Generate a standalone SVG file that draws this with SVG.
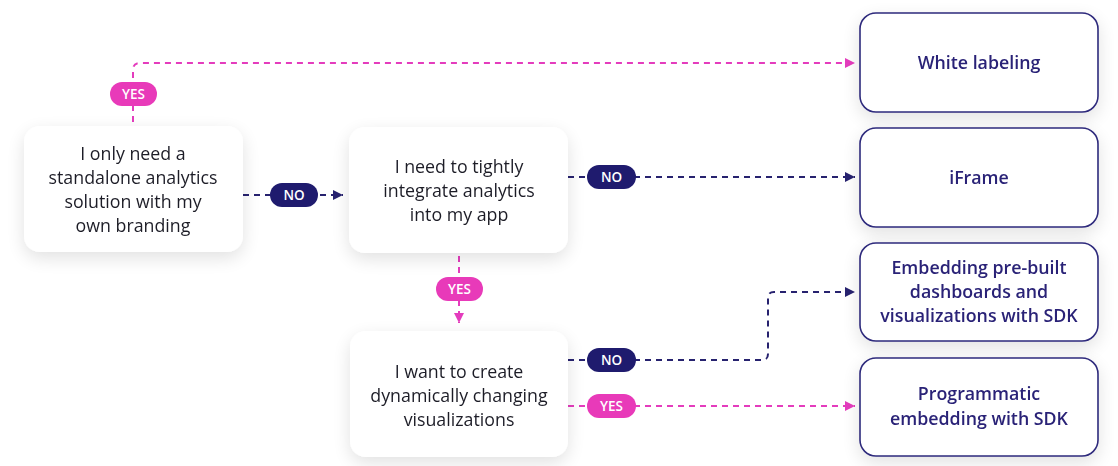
<svg xmlns="http://www.w3.org/2000/svg" width="1118" height="466" viewBox="0 0 1118 466">
<style>
.q rect{fill:#fff}
.q text{font-family:"Open Sans","Noto Sans",sans-serif;font-size:17.8px;fill:#1e1e28;text-anchor:middle}
.r rect{fill:#fff;stroke:#2e2a7c;stroke-width:1.6}
.r text{font-family:"Open Sans","Noto Sans",sans-serif;font-size:17.8px;font-weight:600;fill:#2a2377;text-anchor:middle}
.pk{fill:none;stroke:#e43cbd;stroke-width:2;stroke-dasharray:6 5}
.nv{fill:none;stroke:#27226f;stroke-width:2;stroke-dasharray:6 5}
.bp{fill:#e83ab9}
.bn{fill:#1f1b6e}
.bt{font-family:"Open Sans","Noto Sans",sans-serif;font-size:13.5px;font-weight:600;fill:#fff;text-anchor:middle}
</style>
<defs>
<filter id="sh" x="-30%" y="-30%" width="160%" height="170%">
<feGaussianBlur in="SourceAlpha" stdDeviation="9"/>
<feOffset dy="6"/>
<feComponentTransfer><feFuncA type="linear" slope="0.12"/></feComponentTransfer>
<feMerge><feMergeNode/><feMergeNode in="SourceGraphic"/></feMerge>
</filter>
<marker id="ap" viewBox="0 0 10 10" refX="10" refY="5" markerWidth="5" markerHeight="5" orient="auto"><path d="M0,0L10,5L0,10z" fill="#e43cbd"/></marker>
<marker id="an" viewBox="0 0 10 10" refX="10" refY="5" markerWidth="5" markerHeight="5" orient="auto"><path d="M0,0L10,5L0,10z" fill="#27226f"/></marker>
</defs>
<rect width="1118" height="466" fill="#fff"/>
<g id="connectors">
<path class="pk" d="M133,122V70Q133,63 140,63H855" marker-end="url(#ap)"/>
<path class="nv" d="M243,195H343" marker-end="url(#an)"/>
<path class="nv" d="M568,177H855" marker-end="url(#an)"/>
<path class="pk" d="M459,256V323" marker-end="url(#ap)"/>
<path class="nv" d="M568,360H762Q768,360 768,354V298Q768,292 774,292H855" marker-end="url(#an)"/>
<path class="pk" d="M568,406H855" marker-end="url(#ap)"/>
<g>
<rect class="bp" x="110" y="82" width="47" height="24" rx="12"/><text class="bt" x="133.5" y="98.8">YES</text>
<rect class="bn" x="270" y="183" width="48" height="24" rx="12"/><text class="bt" x="294" y="199.8">NO</text>
<rect class="bn" x="587" y="165" width="49" height="24" rx="12"/><text class="bt" x="611.5" y="181.8">NO</text>
<rect class="bp" x="436" y="277" width="47" height="24" rx="12"/><text class="bt" x="459.5" y="293.8">YES</text>
<rect class="bn" x="587" y="348" width="49" height="24" rx="12"/><text class="bt" x="611.5" y="364.8">NO</text>
<rect class="bp" x="587" y="394" width="49" height="24" rx="12"/><text class="bt" x="611.5" y="410.8">YES</text>
</g>
</g>
<g id="q1" class="q" filter="url(#sh)">
<rect x="24" y="126" width="219" height="126" rx="16"/>
<text x="133" y="160">I only need a</text>
<text x="133" y="184">standalone analytics</text>
<text x="133" y="208">solution with my</text>
<text x="133" y="232">own branding</text>
</g>
<g id="q2" class="q" filter="url(#sh)">
<rect x="349" y="127" width="219" height="126" rx="16"/>
<text x="459" y="173">I need to tightly</text>
<text x="459" y="197">integrate analytics</text>
<text x="459" y="221">into my app</text>
</g>
<g id="q3" class="q" filter="url(#sh)">
<rect x="350" y="331" width="218" height="126" rx="16"/>
<text x="459" y="378">I want to create</text>
<text x="459" y="402">dynamically changing</text>
<text x="459" y="426">visualizations</text>
</g>
<g id="r1" class="r" filter="url(#sh)">
<rect x="860" y="13" width="238" height="99" rx="16"/>
<text x="979" y="69">White labeling</text>
</g>
<g id="r2" class="r" filter="url(#sh)">
<rect x="860" y="128" width="238" height="99" rx="16"/>
<text x="979" y="184">iFrame</text>
</g>
<g id="r3" class="r" filter="url(#sh)">
<rect x="860" y="243" width="238" height="98" rx="16"/>
<text x="979" y="274">Embedding pre-built</text>
<text x="979" y="298">dashboards and</text>
<text x="979" y="322">visualizations with SDK</text>
</g>
<g id="r4" class="r" filter="url(#sh)">
<rect x="860" y="358" width="238" height="98" rx="16"/>
<text x="979" y="400">Programmatic</text>
<text x="979" y="425">embedding with SDK</text>
</g>
</svg>
